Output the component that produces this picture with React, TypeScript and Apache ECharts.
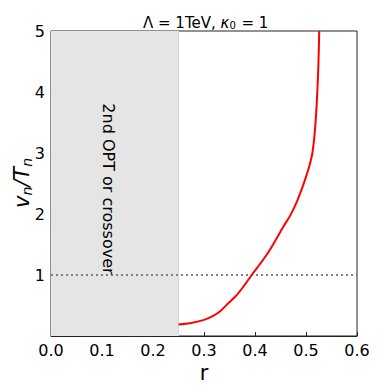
import React, { useEffect, useRef } from "react";
import * as echarts from "echarts";

const rValues = [0.25, 0.2725, 0.2987, 0.318, 0.331, 0.348, 0.364, 0.38, 0.3935, 0.416, 0.429, 0.4555, 0.47, 0.482, 0.49, 0.498, 0.506, 0.5125, 0.5176, 0.521, 0.524, 0.526];
const vnTn = [0.19, 0.21, 0.26, 0.33, 0.40, 0.54, 0.67, 0.84, 1.0, 1.25, 1.41, 1.79, 1.99, 2.20, 2.37, 2.56, 2.77, 3.0, 3.38, 3.81, 4.36, 5.0];
const xTicks = [0, 0.1, 0.2, 0.3, 0.4, 0.5, 0.6];
const yTickLabels = ["", "1", "2", "3", "4", "5"];
const shadedRange = [0, 0.25];
const referenceLevel = 1;
const regionLabel = "2nd OPT or crossover";
const regionLabelAt = [0.112, 2.41];

const FONT = "DejaVu Sans";

export default function App() {
  const ref = useRef<HTMLDivElement>(null);
  useEffect(() => {
    if (!ref.current) return;
    const chart = echarts.init(ref.current, null, { renderer: "svg" });
    chart.setOption({
      animation: false,
      textStyle: { fontFamily: FONT },
      title: {
        text: "{n|Λ = 1TeV, }{i|κ}{s|0}{n| = 1}",
        left: 138,
        top: 10,
        textStyle: {
          fontWeight: "normal",
          rich: {
            n: { fontFamily: FONT, fontSize: 15, lineHeight: 15, fontWeight: "normal", color: "#000" },
            i: { fontFamily: FONT, fontSize: 15, lineHeight: 15, fontWeight: "normal", fontStyle: "italic", color: "#000" },
            s: { fontFamily: FONT, fontSize: 10, lineHeight: 10, fontWeight: "normal", color: "#000", verticalAlign: "bottom", padding: [0, 1, 0, 0] },
          },
        },
      },
      graphic: [
        {
          type: "text",
          x: 22,
          y: 183,
          rotation: Math.PI / 2,
          style: {
            text: "{i|v}{s|n}{i|/T}{s|n}",
            align: "center",
            verticalAlign: "middle",
            rich: {
              i: { fontFamily: FONT, fontSize: 21, lineHeight: 24, fontStyle: "italic", fill: "#000" },
              s: { fontFamily: FONT, fontSize: 14, lineHeight: 14, fontStyle: "italic", fill: "#000", verticalAlign: "bottom" },
            },
          },
        },
      ],
      grid: {
        left: 51,
        right: 24,
        top: 31,
        bottom: 56,
        outerBoundsMode: "none",
        containLabel: false,
        show: true,
        borderColor: "#222",
        borderWidth: 1,
        backgroundColor: "transparent",
      },
      xAxis: {
        type: "value",
        min: xTicks[0],
        max: xTicks[xTicks.length - 1],
        interval: 0.1,
        name: "r",
        nameLocation: "middle",
        nameGap: 25,
        nameTextStyle: { fontFamily: FONT, fontSize: 21, color: "#000" },
        axisLine: { show: true, lineStyle: { color: "#222", width: 1 } },
        axisTick: { show: true, inside: true, length: 4, lineStyle: { color: "#222" } },
        axisLabel: {
          fontFamily: FONT,
          fontSize: 16,
          color: "#000",
          margin: 6,
          formatter: (v: number) => v.toFixed(1),
        },
        splitLine: { show: false },
      },
      yAxis: {
        type: "value",
        min: 0,
        max: 5,
        interval: 1,
        axisLine: { show: true, lineStyle: { color: "#222", width: 1 } },
        axisTick: { show: true, inside: true, length: 4, lineStyle: { color: "#222" } },
        axisLabel: {
          fontFamily: FONT,
          fontSize: 16,
          color: "#000",
          margin: 6,
          formatter: (v: number) => yTickLabels[Math.round(v)] ?? "",
        },
        splitLine: { show: false },
      },
      series: [
        {
          type: "line",
          data: rValues.map((r, i) => [r, vnTn[i]]),
          symbol: "none",
          smooth: 0.25,
          lineStyle: { color: "#ff0000", width: 2 },
          z: 5,
          markArea: {
            silent: true,
            itemStyle: { color: "#e5e5e5" },
            data: [[{ xAxis: shadedRange[0] }, { xAxis: shadedRange[1] }]],
          },
          markLine: {
            silent: true,
            symbol: "none",
            label: { show: false },
            data: [
              { yAxis: referenceLevel, lineStyle: { color: "#808080", type: [2, 3], width: 2 } },
              { xAxis: shadedRange[1], lineStyle: { color: "#d8d8d8", type: "solid", width: 1 } },
            ],
          },
        },
        {
          type: "scatter",
          data: [regionLabelAt],
          symbolSize: 0,
          silent: true,
          z: 10,
          label: {
            show: true,
            position: "inside",
            rotate: -90,
            formatter: regionLabel,
            fontFamily: FONT,
            fontSize: 16,
            color: "#000",
            opacity: 1,
            textBorderWidth: 0,
          },
        },
      ],
    });
    return () => chart.dispose();
  }, []);
  return <div ref={ref} style={{ width: 381, height: 392, margin: -8 }} />;
}
